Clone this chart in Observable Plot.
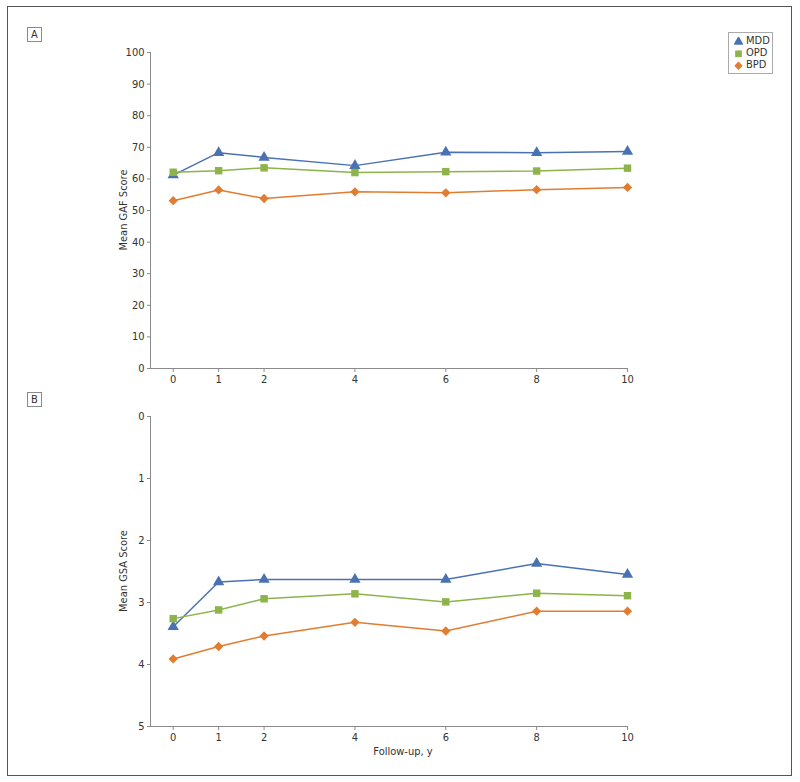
<!DOCTYPE html>
<html>
<head>
<meta charset="utf-8">
<script src="https://cdn.jsdelivr.net/npm/d3@7"></script>
<script src="https://cdn.jsdelivr.net/npm/@observablehq/plot@0.6"></script>
<style>
  html, body { margin: 0; padding: 0; background: #fff; }
  #wrap { position: relative; width: 800px; height: 782px; overflow: hidden;
    font-family: "Liberation Sans Narrow", "DejaVu Sans Condensed", "Arial Narrow", sans-serif; color: #333; }
  #frame { position: absolute; left: 7px; top: 6px; width: 785px; height: 770px; border: 1px solid #555; box-sizing: border-box; }
  .panel { position: absolute; left: 0; }
  .tag { position: absolute; left: 27px; width: 15px; height: 15px; border: 1px solid #8a8a8a; box-sizing: border-box;
    font-size: 11px; line-height: 13px; text-align: center; color: #333; }
  .title { position: absolute; font-size: 11px; color: #333; white-space: nowrap; line-height: 12px; }
  .ytitle { transform: translate(-50%, -50%) rotate(-90deg); }
  .xtitle { transform: translate(-50%, -50%); }
  #legend { position: absolute; left: 728px; top: 32px; width: 45px; height: 42px; border: 1px solid #aaa; box-sizing: border-box; padding-top: 2px; }
  #legend .row { display: flex; align-items: center; height: 12px; font-size: 11px; line-height: 12px; }
  #legend svg { margin-left: 5px; margin-right: 3px; }
</style>
</head>
<body>
<div id="wrap">
  <div id="frame"></div>
  <div class="tag" style="top:27px">A</div>
  <div class="tag" style="top:392px">B</div>
  <div id="legend"></div>
</div>
<script>
// ---- data ----
const years = [0, 1, 2, 4, 6, 8, 10];
const groups = ["MDD", "OPD", "BPD"];
const colors = ["#4a72b2", "#8cb44a", "#e17c30"];
const symbols = ["triangle", "square", "diamond2"];

const gafMDD = [61.2, 68.3, 66.8, 64.2, 68.4, 68.3, 68.7];
const gafOPD = [62.1, 62.6, 63.5, 62.0, 62.3, 62.5, 63.4];
const gafBPD = [53.1, 56.5, 53.8, 55.9, 55.6, 56.6, 57.3];

const gsaMDD = [3.39, 2.67, 2.63, 2.63, 2.63, 2.37, 2.55];
const gsaOPD = [3.26, 3.12, 2.94, 2.86, 2.99, 2.85, 2.89];
const gsaBPD = [3.91, 3.71, 3.54, 3.32, 3.46, 3.14, 3.14];

const gafTicks = [0, 10, 20, 30, 40, 50, 60, 70, 80, 90, 100];
const gsaTicks = [0, 1, 2, 3, 4, 5];
const xDomain = [-0.5, 10];
const titles = {gaf: "Mean GAF Score", gsa: "Mean GSA Score", x: "Follow-up, y"};

function rows(series) {
  const out = [];
  groups.forEach((g, i) => years.forEach((yr, j) => out.push({group: g, year: yr, value: series[i][j]})));
  return out;
}
const gafData = rows([gafMDD, gafOPD, gafBPD]);
const gsaData = rows([gsaMDD, gsaOPD, gsaBPD]);

const FONT = '"Liberation Sans Narrow", "DejaVu Sans Condensed", "Arial Narrow", sans-serif';
const AXIS = "#8a8a8a";

function panel({data, yDomain, yTicks, reverse, height, marginTop, marginBottom}) {
  const base = reverse ? d3.max(yDomain) : d3.min(yDomain);
  return Plot.plot({
    width: 800, height, marginLeft: 150, marginRight: 173, marginTop, marginBottom,
    style: {fontFamily: FONT, fontSize: "11px", color: "#333", background: "transparent", overflow: "visible"},
    x: {domain: xDomain},
    y: {domain: yDomain, reverse},
    color: {domain: groups, range: colors},
    symbol: {domain: groups, range: symbols},
    marks: [
      Plot.ruleX([xDomain[0]], {stroke: AXIS}),
      Plot.ruleY([base], {stroke: AXIS}),
      Plot.axisY({ticks: yTicks, tickFormat: d => String(d), tickSize: 3, tickPadding: 3, stroke: AXIS, fill: "#333", label: null}),
      Plot.axisX({ticks: years, tickFormat: d => String(d), tickSize: 4, tickPadding: 3, stroke: AXIS, fill: "#333", label: null}),
      Plot.line(data, {x: "year", y: "value", z: "group", stroke: "group", strokeWidth: 1.5}),
      Plot.dot(data, {x: "year", y: "value", fill: "group", symbol: "group", r: 4.2, stroke: "none"})
    ]
  });
}

const wrap = document.getElementById("wrap");

const a = panel({data: gafData, yDomain: [0, 100], yTicks: gafTicks, reverse: false,
  height: 400, marginTop: 52, marginBottom: 32});
a.classList.add("panel"); a.style.top = "0px";
wrap.appendChild(a);

const b = panel({data: gsaData, yDomain: [0, 5], yTicks: gsaTicks, reverse: true,
  height: 392, marginTop: 26, marginBottom: 56});
b.classList.add("panel"); b.style.top = "390px";
wrap.appendChild(b);

// axis titles
function addTitle(text, cls, x, y) {
  const d = document.createElement("div");
  d.className = "title " + cls;
  d.textContent = text;
  d.style.left = x + "px"; d.style.top = y + "px";
  wrap.appendChild(d);
}
addTitle(titles.gaf, "ytitle", 124, 210);
addTitle(titles.gsa, "ytitle", 124, 571);
addTitle(titles.x, "xtitle", 403, 752);

// legend
const symMap = {triangle: d3.symbolTriangle, square: d3.symbolSquare, diamond2: d3.symbolDiamond2};
const legend = d3.select("#legend");
groups.forEach((g, i) => {
  const row = legend.append("div").attr("class", "row");
  const svg = row.append("svg").attr("width", 9).attr("height", 9);
  svg.append("path").attr("transform", "translate(4.5,4.8)")
    .attr("d", d3.symbol(symMap[symbols[i]], 45)())
    .attr("fill", colors[i]);
  row.append("span").text(g);
});
</script>
</body>
</html>
